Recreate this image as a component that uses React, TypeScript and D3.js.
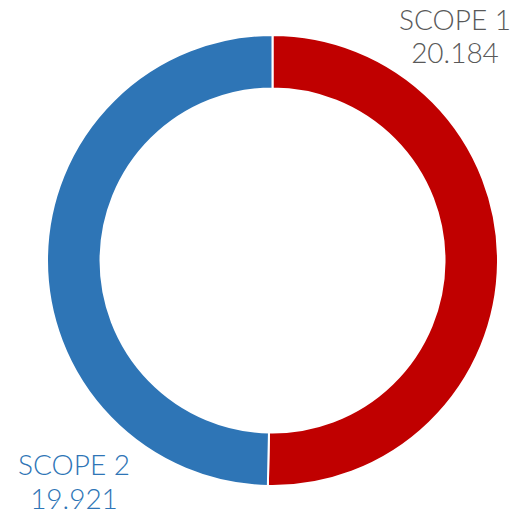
import React from "react";
import * as d3 from "d3";

const categories = ["SCOPE 1", "SCOPE 2"];
const values = [20.184, 19.921];
const valueLabels = ["20.184", "19.921"];
const colors = ["#C00000", "#2E75B6"];
const labelColors = ["#595959", "#2E75B6"];

export default function App() {
  const W = 513, H = 515;
  const cx = 272.5, cy = 260.5;
  const outerR = 225.5, innerR = 172;
  const pie = d3.pie<number>().sort(null).value((d) => d)(values);
  const arc = d3.arc<d3.PieArcDatum<number>>().innerRadius(innerR).outerRadius(outerR);
  const labelPos = [
    { x: 455, y1: 30, y2: 63 },
    { x: 74, y1: 475, y2: 509 },
  ];
  return (
    <svg width={W} height={H} style={{ position: "fixed", left: 0, top: 0 }}>
      <rect width={W} height={H} fill="#fff" />
      <g transform={`translate(${cx},${cy})`}>
        {pie.map((p, i) => (
          <path key={i} d={arc(p) as string} fill={colors[i]} stroke="#fff" strokeWidth={2} />
        ))}
      </g>
      {categories.map((c, i) => (
        <g key={c} fill={labelColors[i]} fontFamily="Lato, 'DejaVu Sans', sans-serif" fontSize={28} fontWeight={300} textAnchor="middle">
          <text x={labelPos[i].x} y={labelPos[i].y1}>{c}</text>
          <text x={labelPos[i].x} y={labelPos[i].y2}>{valueLabels[i]}</text>
        </g>
      ))}
    </svg>
  );
}
